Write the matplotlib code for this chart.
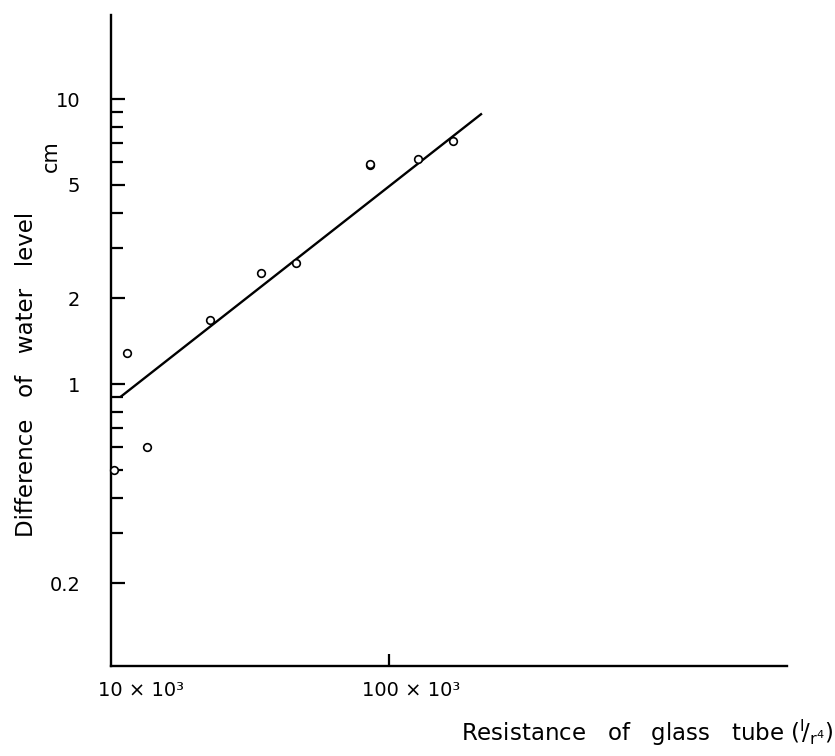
import matplotlib
matplotlib.use("Agg")
import matplotlib.pyplot as plt
from matplotlib.ticker import NullLocator, NullFormatter
from matplotlib.transforms import ScaledTranslation

# measured points: tube resistance vs. difference of water level (cm)
resistance = [9.6e3, 10.7e3, 12.7e3, 21.7e3, 33.6e3, 45.3e3, 85e3, 85e3, 128e3, 172e3]
level_diff = [0.50, 1.29, 0.60, 1.68, 2.45, 2.66, 5.85, 5.90, 6.15, 7.1]

# fitted straight line (log-log)
fit_x = [10.1e3, 221e3]
fit_y = [0.90, 8.9]

y_major = [0.2, 1, 2, 5, 10]
y_major_labels = ["0.2", "1", "2", "5", "10"]
y_minor = [0.3, 0.4, 0.5, 0.6, 0.7, 0.8, 0.9, 3, 4, 6, 7, 8, 9]
x_major = [1e4, 1e5]
x_major_labels = ["10 × 10³", "100 × 10³"]

plt.rcParams["font.family"] = "DejaVu Sans"
plt.rcParams["mathtext.fontset"] = "dejavusans"

fig = plt.figure(figsize=(8.35, 7.56), dpi=100)
ax = fig.add_axes([0.1329, 0.119, 0.8096, 0.861])

ax.plot(fit_x, fit_y, color="black", lw=1.7, solid_capstyle="butt")
ax.plot(resistance, level_diff, "o", ms=5.5, mfc="white", mec="black", mew=1.2,
        clip_on=False, zorder=3)

ax.set_xscale("log")
ax.set_yscale("log")
ax.set_xlim(9.34e3, 2.98e6)
ax.set_ylim(0.1026, 19.7)

for side in ("top", "right"):
    ax.spines[side].set_visible(False)
for side in ("left", "bottom"):
    ax.spines[side].set_linewidth(1.7)

ax.set_yticks(y_major)
ax.set_yticklabels(y_major_labels)
ax.set_yticks(y_minor, minor=True)
ax.yaxis.set_minor_formatter(NullFormatter())

ax.set_xticks(x_major)
ax.set_xticklabels(x_major_labels)
ax.xaxis.set_minor_locator(NullLocator())
ax.xaxis.get_major_ticks()[0].tick1line.set_visible(False)

ax.tick_params(axis="y", which="major", direction="in", length=10, width=1.6,
               labelsize=14, pad=22)
ax.tick_params(axis="y", which="minor", direction="in", length=8.5, width=1.6)
ax.tick_params(axis="x", which="major", direction="in", length=9, width=1.6,
               labelsize=14, pad=11)

# lettering sits a little right of the tick marks
for lbl in ax.get_xticklabels():
    lbl.set_transform(lbl.get_transform() + ScaledTranslation(0.22, 0, fig.dpi_scale_trans))

fig.text(27 / 835, 1 - 374 / 756, "Difference   of   water   level", rotation=90,
         ha="center", va="center", fontsize=16.5)
fig.text(51 / 835, 1 - 156 / 756, "cm", rotation=90, ha="center", va="center",
         fontsize=15)
fig.text(833 / 835, 1 - 733 / 756,
         r"Resistance   of   glass   tube $(^{\mathrm{l}}\!/_{\mathrm{r}^{4}})$",
         ha="right", va="center", fontsize=16.5)

fig.savefig("out.png", dpi=100)
